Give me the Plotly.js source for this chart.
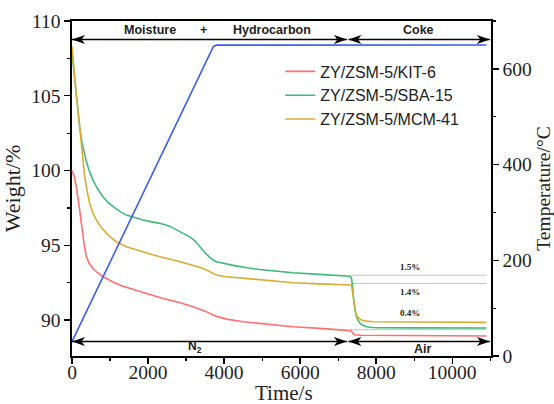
<!DOCTYPE html>
<html>
<head>
<meta charset="utf-8">
<script src="https://cdn.plot.ly/plotly-3.0.1.min.js"></script>
<style>
  html, body { margin: 0; padding: 0; background: #fff; }
  #chart { width: 554px; height: 404px; }
</style>
</head>
<body>
<div id="chart"></div>
<script>
// TGA weight-loss curves (left axis) and furnace temperature program (right axis)
const seriesNames = ['ZY/ZSM-5/KIT-6', 'ZY/ZSM-5/SBA-15', 'ZY/ZSM-5/MCM-41'];

const timeKIT6 = [0, 60, 115, 160, 203, 250, 290, 330, 378, 450, 553, 680, 816, 950, 1079, 1300, 1600, 2000, 2400, 2800, 3184, 3500, 3800, 4100, 4500, 5200, 5816, 6500, 7250, 7330, 7380, 7420, 7600, 8500, 10000, 10900];
const weightKIT6 = [100.0, 99.6, 98.9, 98.2, 97.35, 96.4, 95.6, 94.9, 94.25, 93.8, 93.45, 93.15, 92.9, 92.7, 92.55, 92.3, 92.05, 91.75, 91.45, 91.2, 90.9, 90.6, 90.25, 90.05, 89.89, 89.7, 89.56, 89.45, 89.32, 89.3, 89.15, 89.02, 88.99, 88.97, 88.95, 88.94];

const timeSBA15 = [0, 40, 90, 150, 203, 260, 320, 379, 450, 553, 680, 816, 950, 1079, 1250, 1431, 1650, 1868, 2100, 2308, 2550, 2747, 2950, 3097, 3230, 3360, 3500, 3624, 3720, 3800, 4000, 4237, 4600, 4939, 5400, 5816, 6500, 7250, 7320, 7350, 7379, 7413, 7440, 7466, 7520, 7571, 7650, 7747, 7900, 8097, 9000, 10000, 10900];
const weightSBA15 = [107.9, 106.9, 105.5, 104.0, 102.9, 101.9, 101.2, 100.6, 100.0, 99.36, 98.75, 98.24, 97.85, 97.58, 97.27, 97.02, 96.83, 96.69, 96.57, 96.47, 96.3, 96.05, 95.8, 95.57, 95.3, 94.9, 94.5, 94.2, 94.0, 93.9, 93.78, 93.66, 93.5, 93.38, 93.27, 93.17, 93.06, 92.95, 92.93, 92.8, 92.3, 91.2, 90.7, 90.35, 90.0, 89.8, 89.65, 89.56, 89.51, 89.49, 89.48, 89.47, 89.47];

const timeMCM41 = [0, 30, 71, 115, 158, 200, 247, 290, 334, 400, 466, 550, 642, 770, 905, 1040, 1168, 1431, 1868, 2308, 2747, 3184, 3400, 3537, 3680, 3800, 4000, 4237, 4600, 4939, 5400, 5816, 6500, 7250, 7330, 7353, 7395, 7439, 7470, 7500, 7560, 7616, 7750, 7921, 9000, 10000, 10900];
const weightMCM41 = [108.3, 107.3, 106.0, 105.0, 104.0, 103.0, 101.8, 100.7, 99.6, 98.6, 97.8, 97.15, 96.69, 96.2, 95.8, 95.5, 95.24, 94.9, 94.57, 94.23, 93.97, 93.68, 93.5, 93.35, 93.15, 93.01, 92.92, 92.86, 92.76, 92.68, 92.58, 92.5, 92.42, 92.36, 92.35, 92.3, 91.56, 90.67, 90.4, 90.23, 90.08, 90.0, 89.93, 89.89, 89.87, 89.86, 89.85];

// heating ramp 10 °C/min to 650 °C, then isothermal
const timeTemp = [0, 3660, 3720, 3800, 10900];
const temperature = [30, 640, 647, 649.5, 650];

// reference levels across the air (coke burn-off) stage
const refTime = [7330, 10900];
const refLevels = [93.0, 92.45, 89.36];
const lossLabels = ['1.5%', '1.4%', '0.4%'];
const lossLabelWeight = [93.57, 91.9, 90.45];
const lossLabelTime = 8890;

const colors = ['#ff6f6f', '#3dba79', '#d9ac35'];
const serif = 'Liberation Serif, Times New Roman, serif';
const sans = 'Liberation Sans, Arial, sans-serif';

const traces = [];
refLevels.forEach(function (lvl) {
  traces.push({
    x: refTime, y: [lvl, lvl], mode: 'lines', showlegend: false, hoverinfo: 'skip',
    line: { color: '#c4c4c4', width: 1 }
  });
});
traces.push(
  { x: timeKIT6, y: weightKIT6, name: seriesNames[0], mode: 'lines', line: { color: colors[0], width: 1.6 } },
  { x: timeSBA15, y: weightSBA15, name: seriesNames[1], mode: 'lines', line: { color: colors[1], width: 1.6 } },
  { x: timeMCM41, y: weightMCM41, name: seriesNames[2], mode: 'lines', line: { color: colors[2], width: 1.6 } },
  { x: timeTemp, y: temperature, yaxis: 'y2', mode: 'lines', showlegend: false, line: { color: '#3a5cf2', width: 1.6 } }
);

// double-headed span arrow: a line plus two pixel-sized barbed heads
function spanArrow(x0, x1, y) {
  const head = function (tip, d) {
    return {
      type: 'path', xref: 'x', yref: 'y', layer: 'above',
      xsizemode: 'pixel', ysizemode: 'pixel', xanchor: tip, yanchor: y,
      path: 'M0,0 L' + (-13 * d) + ',4.5 L' + (-9.5 * d) + ',0 L' + (-13 * d) + ',-4.5 Z',
      fillcolor: '#000', line: { width: 0 }
    };
  };
  return [
    { type: 'line', xref: 'x', yref: 'y', x0: x0, x1: x1, y0: y, y1: y, layer: 'above',
      line: { color: '#000', width: 1.6 } },
    head(x0, -1),
    head(x1, 1)
  ];
}
function label(text, x, y, size, bold, family) {
  return {
    x: x, y: y, xref: 'x', yref: 'y', showarrow: false,
    text: bold ? '<b>' + text + '</b>' : text,
    font: { family: family || sans, size: size, color: '#222' }
  };
}

const topY = 108.76, bottomY = 88.57;
const shapes = [].concat(
  spanArrow(0, 7230, topY),
  spanArrow(7270, 10990, topY),
  spanArrow(0, 7230, bottomY),
  spanArrow(7270, 10990, bottomY)
);
const annotations = [
  label('Moisture', 2063, 109.38, 12.5, true),
  label('+', 3466, 109.38, 12.5, true),
  label('Hydrocarbon', 5247, 109.38, 12.5, true),
  label('Coke', 9105, 109.38, 12.5, true),
  label('N<sub>2</sub>', 3230, 88.2, 12, true),
  label('Air', 9229, 88.07, 12.5, true),
  // x-axis title, placed just under the tick labels
  { xref: 'paper', yref: 'paper', x: 0.506, y: -0.11, xanchor: 'center', yanchor: 'middle',
    showarrow: false, text: 'Time/s', font: { family: serif, size: 21, color: '#222' } }
];
lossLabels.forEach(function (t, i) {
  annotations.push(label(t, lossLabelTime, lossLabelWeight[i], 9, true, serif));
});

const axisBase = {
  showline: true, linecolor: '#000', linewidth: 1.6,
  ticks: 'outside', ticklen: 6, tickwidth: 1.4, tickcolor: '#000',
  showgrid: false, zeroline: false,
  tickfont: { family: serif, size: 19.5, color: '#222' }
};
const minorTicks = { ticks: 'outside', ticklen: 3.5, tickwidth: 1.2, tickcolor: '#000' };

const layout = {
  width: 554, height: 404,
  margin: { l: 72, r: 63, t: 21, b: 48 },
  paper_bgcolor: '#fff', plot_bgcolor: '#fff',
  showlegend: true,
  legend: {
    x: 0.497, y: 0.9, xanchor: 'left', yanchor: 'top',
    bgcolor: 'rgba(0,0,0,0)', font: { family: sans, size: 16, color: '#222' },
    tracegroupgap: 0
  },
  xaxis: Object.assign({}, axisBase, {
    range: [0, 11020], dtick: 2000, tick0: 0, tickformat: 'd', mirror: true,
    ticklabelstandoff: -8,
    minor: Object.assign({ dtick: 1000 }, minorTicks)
  }),
  yaxis: Object.assign({}, axisBase, {
    range: [87.6, 110], dtick: 5, tick0: 90,
    minor: Object.assign({ dtick: 2.5 }, minorTicks),
    title: { text: 'Weight/%', font: { family: serif, size: 22, color: '#222' }, standoff: 8 }
  }),
  yaxis2: Object.assign({}, axisBase, {
    overlaying: 'y', side: 'right', range: [0, 700], dtick: 200, tick0: 0,
    minor: Object.assign({ dtick: 100 }, minorTicks),
    title: { text: 'Temperature/\u00B0C', font: { family: serif, size: 19.5, color: '#222' }, standoff: 6 }
  }),
  shapes: shapes,
  annotations: annotations
};

Plotly.newPlot('chart', traces, layout, { displayModeBar: false, staticPlot: true });
</script>
</body>
</html>
